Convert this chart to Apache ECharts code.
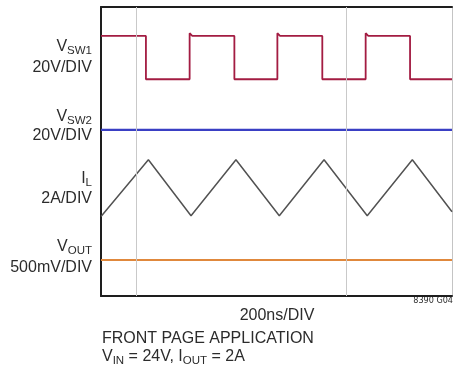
<!DOCTYPE html>
<html>
<head>
<meta charset="utf-8">
<script src="https://cdn.jsdelivr.net/npm/echarts@6/dist/echarts.min.js"></script>
<style>
  html, body { margin: 0; padding: 0; background: #fff; }
  #chart { width: 453px; height: 372px; }
</style>
</head>
<body>
<div id="chart"></div>
<script>
// Scope capture: 10 horizontal divisions of 200 ns, 8 vertical divisions.
const timeDivNs = 200;
const screenDivs = 8;

// VSW1 switch node (volts) vs time (ns)
const sw1Time = [0, 256, 256, 505, 505, 520, 760, 760, 1005, 1005, 1020, 1261, 1261, 1508, 1508, 1523, 1761, 1761, 2000];
const sw1Volts = [24, 24, 0, 0, 25.5, 24, 24, 0, 0, 25.5, 24, 24, 0, 0, 25.5, 24, 24, 0, 0];

// VSW2 switch node (volts), held steady
const sw2Time = [0, 2000];
const sw2Volts = [0, 0];

// Inductor current (amps)
const ilTime = [0, 270, 513, 769, 1016, 1271, 1517, 1774, 2000];
const ilAmps = [0.40, 3.54, 0.44, 3.54, 0.44, 3.54, 0.44, 3.54, 0.66];

// Output voltage ripple (volts, AC coupled)
const voutTime = [0, 2000];
const voutVolts = [0, 0];

// Vertical scale of each channel and where its zero sits on screen (divisions)
const sw1Scale = 20, sw1Zero = 6.0;
const sw2Scale = 20, sw2Zero = 4.6;
const ilScale = 2, ilZero = 2.0;
const voutScale = 0.5, voutZero = 1.0;

// Faint reference graticule lines (ns)
const gridMarks = [200, 1400];

function toScreen(times, vals, scale, zero) {
  return times.map((t, i) => [t, zero + vals[i] / scale]);
}

const FONT = '"Liberation Sans", Arial, Helvetica, sans-serif';
const NARROW = '"Liberation Sans Narrow", "DejaVu Sans Condensed", Arial, sans-serif';
const INK = '#2c2c2c';

const richStyles = {
  m: { fontSize: 16, fontFamily: FONT, fill: INK, lineHeight: 16, padding: [0, 0, 2, 0], verticalAlign: 'bottom' },
  s: { fontSize: 11.5, fontFamily: FONT, fill: INK, lineHeight: 11, verticalAlign: 'bottom' }
};

function subLabel(x, y, main, sub) {
  return {
    type: 'text', x: x, y: y,
    style: {
      text: '{m|' + main + '}{s|' + sub + '}',
      align: 'right', verticalAlign: 'bottom',
      fill: INK, fontFamily: FONT, rich: richStyles
    }
  };
}
function plainLabel(x, y, txt, align, size, family) {
  return {
    type: 'text', x: x, y: y,
    style: { text: txt, align: align, verticalAlign: 'bottom', fill: INK, fontFamily: family || FONT, fontSize: size }
  };
}

const chart = echarts.init(document.getElementById('chart'), null, { renderer: 'canvas' });

const lineSeries = (data, color, width, extra) => Object.assign({
  type: 'line', data: data, showSymbol: false, symbol: 'none', animation: false, silent: true,
  lineStyle: { color: color, width: width }, z: 3
}, extra || {});

const hiddenAxis = (position, color, width) => ({
  type: 'value', position: position,
  axisLine: { show: true, onZero: false, lineStyle: { color: color, width: width } },
  axisTick: { show: false }, axisLabel: { show: false }, splitLine: { show: false }
});

chart.setOption({
  backgroundColor: '#ffffff',
  animation: false,
  grid: { left: 101, top: 7, right: 1, bottom: 76, show: false },
  xAxis: [
    Object.assign(hiddenAxis('bottom', '#1e1e1e', 2), { min: 0, max: 2000, interval: timeDivNs }),
    Object.assign(hiddenAxis('top', '#1e1e1e', 2), { min: 0, max: 2000, interval: timeDivNs })
  ],
  yAxis: [
    Object.assign(hiddenAxis('left', '#1e1e1e', 2), { min: 0, max: screenDivs, interval: 1 }),
    Object.assign(hiddenAxis('right', '#c4c4c4', 1), { min: 0, max: screenDivs, interval: 1 })
  ],
  series: [
    lineSeries(toScreen(ilTime, ilAmps, ilScale, ilZero), '#525252', 1.5, {
      markLine: {
        silent: true, symbol: 'none', label: { show: false },
        lineStyle: { color: '#c9c9c9', width: 1, type: 'solid' },
        data: gridMarks.map(t => ({ xAxis: t }))
      }
    }),
    lineSeries(toScreen(sw2Time, sw2Volts, sw2Scale, sw2Zero), '#3a3fc4', 2.2),
    lineSeries(toScreen(voutTime, voutVolts, voutScale, voutZero), '#e0883c', 2),
    lineSeries(toScreen(sw1Time, sw1Volts, sw1Scale, sw1Zero), '#a31c42', 1.8)
  ],
  graphic: [
    subLabel(92, 57, 'V', 'SW1'),
    plainLabel(92, 75.5, '20V/DIV', 'right', 16),
    subLabel(92, 126.5, 'V', 'SW2'),
    plainLabel(92, 144, '20V/DIV', 'right', 16),
    subLabel(92, 188.5, 'I', 'L'),
    plainLabel(92, 207, '2A/DIV', 'right', 16),
    subLabel(92, 257, 'V', 'OUT'),
    plainLabel(92, 276, '500mV/DIV', 'right', 16),
    plainLabel(277, 324, '200ns/DIV', 'center', 16),
    plainLabel(453, 305, '8390 G04', 'right', 9, NARROW),
    plainLabel(102, 346.5, 'FRONT PAGE APPLICATION', 'left', 16),
    {
      type: 'text', x: 102, y: 367,
      style: {
        text: '{m|V}{s|IN}{m| = 24V, I}{s|OUT}{m| = 2A}',
        align: 'left', verticalAlign: 'bottom', fill: INK, fontFamily: FONT, rich: richStyles
      }
    }
  ]
});
</script>
</body>
</html>
